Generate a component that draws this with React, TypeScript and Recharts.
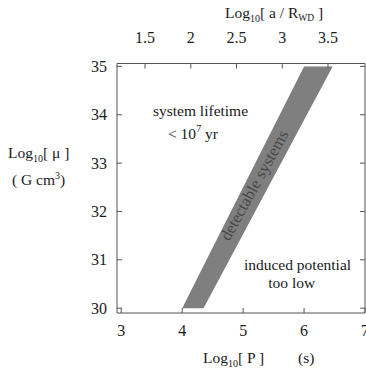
import React from 'react';
import { ComposedChart, Area, XAxis, YAxis } from 'recharts';

// Axis ticks
const periodTicks = [3, 4, 5, 6, 7];
const separationTicks = [1.5, 2, 2.5, 3, 3.5];
const muTicks = [30, 31, 32, 33, 34, 35];

// "detectable systems" band vertices (log10 P, log10 mu range)
const bandPeriod = [4.0, 4.35, 6.0, 6.47];
const bandMuLow = [30, 30, 33.89, 35];
const bandMuHigh = [30, 30.875, 35, 35];

const data = bandPeriod.map((p, i) => ({ p, mu: [bandMuLow[i], bandMuHigh[i]] }));

const FONT = '"Liberation Serif", "DejaVu Serif", serif';
const TXT = '#1a1a1a';
const AXIS = '#555555';
const TICK_LEN = 5;
const TICK_FS = 16;

const BottomTick = (props: any) => {
  const { x, y, payload } = props;
  return (
    <g>
      <line x1={x} y1={y} x2={x} y2={y - TICK_LEN} stroke={AXIS} strokeWidth={1} />
      <text x={x} y={y + 23} textAnchor="middle" fontFamily={FONT} fontSize={TICK_FS} fill={TXT}>
        {payload.value}
      </text>
    </g>
  );
};

const TopTick = (props: any) => {
  const { x, y, payload } = props;
  return (
    <g>
      <line x1={x} y1={y} x2={x} y2={y + TICK_LEN} stroke={AXIS} strokeWidth={1} />
      <text x={x} y={y - 20.5} textAnchor="middle" fontFamily={FONT} fontSize={TICK_FS} fill={TXT}>
        {payload.value}
      </text>
    </g>
  );
};

const LeftTick = (props: any) => {
  const { x, y, payload } = props;
  return (
    <g>
      <line x1={x} y1={y} x2={x + TICK_LEN} y2={y} stroke={AXIS} strokeWidth={1} />
      <text x={x - 10} y={y} dy="0.35em" textAnchor="end" fontFamily={FONT} fontSize={TICK_FS} fill={TXT}>
        {payload.value}
      </text>
    </g>
  );
};

const RightTick = (props: any) => {
  const { x, y } = props;
  return <line x1={x} y1={y} x2={x - TICK_LEN} y2={y} stroke={AXIS} strokeWidth={1} />;
};

const Overlay = () => (
  <svg
    width={366}
    height={372}
    style={{ position: 'absolute', left: 0, top: 0, pointerEvents: 'none' }}
    fontFamily={FONT}
    fill={TXT}
  >
    {/* top axis title */}
    <text x={225} y={18} fontSize={15.5}>
      Log<tspan fontSize={10} dy={4}>10</tspan>
      <tspan dy={-4}>[ a  / R</tspan>
      <tspan fontSize={9.5} dy={3}>WD</tspan>
      <tspan dy={-3}> ]</tspan>
    </text>
    {/* bottom axis title */}
    <text x={203} y={363} fontSize={15.5}>
      Log<tspan fontSize={10} dy={4}>10</tspan>
      <tspan dy={-4}>[ P ]</tspan>
    </text>
    <text x={298} y={363} fontSize={15.5}>(s)</text>
    {/* left axis title */}
    <text x={8} y={158} fontSize={15.5}>
      Log<tspan fontSize={10} dy={4}>10</tspan>
      <tspan dy={-4}>[ μ ]</tspan>
    </text>
    <text x={12} y={185} fontSize={15.5}>
      ( G cm<tspan fontSize={10} dy={-6}>3</tspan>
      <tspan dy={6}>)</tspan>
    </text>
    {/* region labels */}
    <text x={200.5} y={115.5} fontSize={15.5} textAnchor="middle">system lifetime</text>
    <text x={168} y={139} fontSize={15.5}>
      {'< 10'}<tspan fontSize={10} dy={-7}>7</tspan>
      <tspan dy={7}> yr</tspan>
    </text>
    <text x={297.5} y={270} fontSize={15.5} textAnchor="middle">induced potential</text>
    <text x={291.7} y={288} fontSize={15.5} textAnchor="middle">too low</text>
    <text
      x={254}
      y={185}
      fontSize={16.5}
      textAnchor="middle"
      dy="0.35em"
      fill="#474747"
      transform="rotate(-61 254 185)"
    >
      detectable systems
    </text>
  </svg>
);

export default function App() {
  return (
    <div style={{ position: 'absolute', left: 0, top: 0, width: 366, height: 372, background: '#fff' }}>
      <ComposedChart
        width={366}
        height={372}
        data={data}
        margin={{ top: 33.5, right: 0, bottom: 29, left: 77 }}
      >
        <XAxis
          xAxisId="bottom"
          dataKey="p"
          type="number"
          domain={[2.93, 7.0]}
          ticks={periodTicks}
          allowDataOverflow
          orientation="bottom"
          height={30}
          tickSize={0}
          tickMargin={0}
          tick={<BottomTick />}
          axisLine={{ stroke: AXIS, strokeWidth: 1 }}
          interval={0}
        />
        <XAxis
          xAxisId="top"
          dataKey="p"
          type="number"
          domain={[1.194, 3.904]}
          ticks={separationTicks}
          allowDataOverflow
          orientation="top"
          height={30}
          tickSize={0}
          tickMargin={0}
          tick={<TopTick />}
          axisLine={{ stroke: AXIS, strokeWidth: 1 }}
          interval={0}
        />
        <YAxis
          yAxisId="left"
          type="number"
          domain={[29.9, 35.06]}
          ticks={muTicks}
          allowDataOverflow
          orientation="left"
          width={40}
          tickSize={0}
          tickMargin={0}
          tick={<LeftTick />}
          axisLine={{ stroke: AXIS, strokeWidth: 1 }}
          interval={0}
        />
        <YAxis
          yAxisId="right"
          type="number"
          domain={[29.9, 35.06]}
          ticks={muTicks}
          allowDataOverflow
          orientation="right"
          width={1}
          tickSize={0}
          tickMargin={0}
          tick={<RightTick />}
          axisLine={{ stroke: AXIS, strokeWidth: 1 }}
          interval={0}
        />
        <Area
          xAxisId="bottom"
          yAxisId="left"
          dataKey="mu"
          type="linear"
          fill="#7f7f7f"
          fillOpacity={1}
          stroke="none"
          isAnimationActive={false}
          dot={false}
          activeDot={false}
        />
      </ComposedChart>
      <Overlay />
    </div>
  );
}
